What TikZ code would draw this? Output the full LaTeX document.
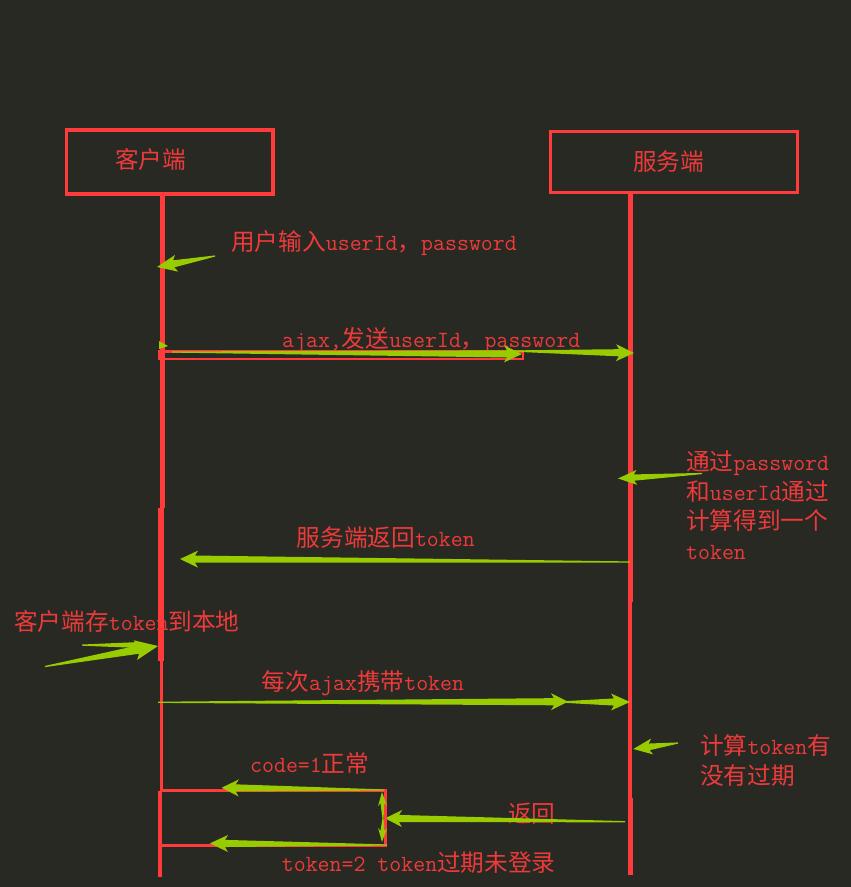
\documentclass[tikz,border=0pt]{standalone}
\usepackage{fontspec}
\newfontfamily\cjk[Scale=1.02]{Noto Sans CJK SC}
\usetikzlibrary{calc}
\definecolor{bg}{HTML}{282923}
\definecolor{lred}{HTML}{FF3B3B}
\definecolor{tred}{HTML}{EE3A3A}
\definecolor{agreen}{HTML}{99CC00}
\newcommand\C[1]{{\cjk #1}}
% tapered arrow: #1 head half-width, #2 head length, #3 tail, #4 tip
\newcommand\garrow[4]{%
  \coordinate (gN) at ($(#4)!#2pt!(#3)$);
  \coordinate (gB) at ($(#4)!#2pt+3pt!(#3)$);
  \fill[agreen] ($(#3)!0.6pt!90:(#4)$) -- ($(gN)!0.42*#1pt!90:(#4)$) -- ($(gB)!#1pt!90:(#4)$)
    -- (#4) -- ($(gB)!#1pt!-90:(#4)$) -- ($(gN)!0.42*#1pt!-90:(#4)$) -- ($(#3)!0.6pt!-90:(#4)$) -- cycle;}
\begin{document}
\begin{tikzpicture}[x=1pt,y=-1pt,
  txt/.style={text=tred, font=\ttfamily\fontsize{23.2}{26}\selectfont, inner sep=0pt, anchor=base west},
  boxline/.style={draw=lred, line width=3.3pt},
  redline/.style={draw=lred, line width=3pt}]
\fill[bg] (0,0) rectangle (851,887);
\useasboundingbox (0,0) rectangle (851,887);

% boxes
\draw[boxline] (66.7,130) rectangle (273,194);
\draw[boxline] (550.5,131.5) rectangle (797.5,192.7);
\node[txt] (client) at (115,168) {\C{客户端}};
\node[txt] (server) at (633,170) {\C{服务端}};

% lifelines
\coordinate (c0) at (162,194);
\coordinate (c1) at (162,508);
\coordinate (c1b) at (161.3,508);
\coordinate (c2) at (161.3,661);
\coordinate (c2b) at (161.7,661);
\coordinate (c3) at (161.7,791);
\coordinate (c3b) at (160.3,791);
\coordinate (c4) at (160.3,877);
\draw[draw=lred,line width=5pt] (c0) -- (c1);
\draw[draw=lred,line width=6pt] (c1b) -- (c2);
\draw[draw=lred,line width=3.5pt] (c2b) -- (c3);
\draw[draw=lred,line width=4pt] (c3b) -- (c4);

\coordinate (s0) at (630.5,193);
\coordinate (s1) at (630.5,602);
\coordinate (s1b) at (630,602);
\coordinate (s2) at (630,798);
\coordinate (s2b) at (630.8,798);
\coordinate (s3) at (630.8,875);
\draw[draw=lred,line width=5pt] (s0) -- (s1);
\draw[draw=lred,line width=3.4pt] (s1b) -- (s2);
\draw[draw=lred,line width=5pt] (s2b) -- (s3);

% 1: user input
\node[txt] (t1) at (231,250) {\C{用户输入}userId\C{，}password};
\coordinate (a1t) at (215,256);
\coordinate (a1h) at (157,267);
\garrow{8.5}{17}{a1t}{a1h}

% 2: ajax send
\coordinate (r1) at (159.5,351.5);
\coordinate (r2) at (523,359);
\draw[draw=lred,line width=2.8pt] (r1) rectangle (r2);
\fill[agreen] (159,341) -- (168,346) -- (159,349) -- cycle;
\node[txt] (t2) at (282,347) {ajax,\C{发送}userId\C{，}password};
\coordinate (a2t) at (172,352);
\coordinate (a2h) at (522,354);
\garrow{8.5}{15}{a2t}{a2h}
\coordinate (a3t) at (512,351);
\coordinate (a3h) at (634,353);
\garrow{8.5}{15}{a3t}{a3h}

% 3: server computes
\node[txt] (t3a) at (686,470.5) {\C{通过}password};
\node[txt] (t3b) at (686,500) {\C{和}userId\C{通过}};
\node[txt] (t3c) at (686,529.5) {\C{计算得到一个}};
\node[txt] (t3d) at (686,559) {token};
\coordinate (a4t) at (702,473.5);
\coordinate (a4h) at (618,478.5);
\garrow{7.5}{16}{a4t}{a4h}

% 4: server returns token
\node[txt] (t4) at (296.5,546) {\C{服务端返回}token};
\coordinate (a5t) at (630,562);
\coordinate (a5h) at (180,559);
\garrow{8.5}{15}{a5t}{a5h}

% 5: client stores token
\node[txt] (t5) at (14,630.5) {\C{客户端存}token\C{到本地}};
\coordinate (a6t) at (45,666.5);
\coordinate (a6h) at (158,646);
\garrow{10}{20}{a6t}{a6h}
\coordinate (w1) at (82,644.5);
\coordinate (w2) at (140,642);
\coordinate (w3) at (140,648);
\fill[agreen] (w1) -- (w2) -- (w3) -- ($(w1)+(0,1.2)$) -- cycle;

% 6: each ajax carries token
\node[txt] (t6) at (261.7,690) {\C{每次}ajax\C{携带}token};
\coordinate (a7t) at (158,702.3);
\coordinate (a7h) at (568,701.7);
\garrow{8.5}{14}{a7t}{a7h}
\coordinate (a8t) at (560,702);
\coordinate (a8h) at (630,702);
\garrow{8.5}{16}{a8t}{a8h}

% 7: compute token expiry
\node[txt] (t7a) at (700,754) {\C{计算}token\C{有}};
\node[txt] (t7b) at (700,784) {\C{没有过期}};
\coordinate (a9t) at (678,743);
\coordinate (a9h) at (633.3,749);
\garrow{8}{16}{a9t}{a9h}

% 8: return
\node[txt] (t8) at (508,822) {\C{返回}};
\coordinate (a10t) at (625,821.7);
\coordinate (a10h) at (385,818.3);
\garrow{8.5}{14}{a10t}{a10h}

% branch lines
\coordinate (b1) at (160,790);
\coordinate (b2) at (385,790);
\coordinate (b3) at (385,845);
\coordinate (b4) at (160,845);
\draw[redline] (b1) -- (b2) -- (b3) -- (b4);

\node[txt] (t9) at (250,772) {code=1\C{正常}};
\coordinate (a11t) at (384,790);
\coordinate (a11h) at (221.7,787.7);
\garrow{8.5}{14}{a11t}{a11h}

\coordinate (vm) at (383,818);
\coordinate (vu) at (382,792);
\coordinate (vd) at (382,842);
\garrow{4.5}{11}{vm}{vu}
\garrow{4.5}{11}{vm}{vd}

\node[txt] (t10) at (281.7,871) {token=2 token\C{过期未登录}};
\coordinate (a12t) at (387,845);
\coordinate (a12h) at (210,843.3);
\garrow{8.5}{15}{a12t}{a12h}
\end{tikzpicture}
\end{document}
